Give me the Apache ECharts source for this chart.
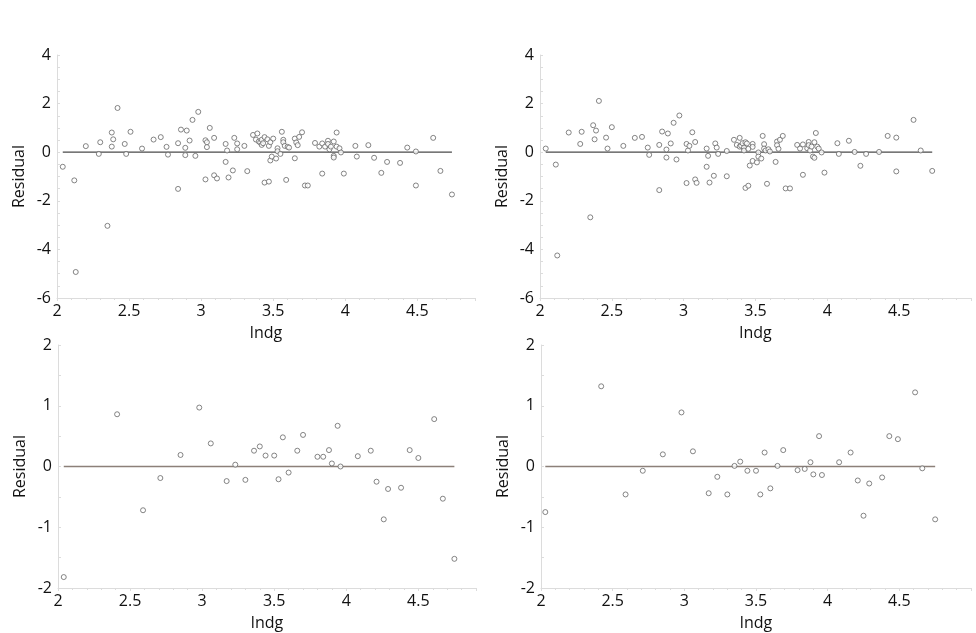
<!DOCTYPE html>
<html>
<head>
<meta charset="utf-8">
<script src="https://cdn.jsdelivr.net/npm/echarts@6/dist/echarts.min.js"></script>
<style>
  html, body { margin: 0; padding: 0; background: #fff; }
  #chart { width: 976px; height: 633px; }
</style>
</head>
<body>
<div id="chart"></div>
<script>
// residuals vs lndg, four panels: [lndg, residual]
var residTopLeft = [
  [2.04,-0.60],[2.12,-1.16],[2.13,-4.93],[2.20,0.25],[2.29,-0.07],[2.30,0.41],[2.35,-3.03],
  [2.38,0.81],[2.38,0.23],[2.39,0.53],[2.42,1.82],[2.47,0.34],[2.48,-0.07],[2.51,0.84],
  [2.59,0.15],[2.67,0.52],[2.72,0.62],[2.76,0.22],[2.77,-0.10],[2.84,0.37],[2.84,-1.51],
  [2.86,0.93],[2.89,0.18],[2.89,-0.12],[2.90,0.89],[2.92,0.48],[2.94,1.33],[2.96,-0.15],
  [2.98,1.66],[3.03,0.49],[3.03,-1.12],[3.04,0.41],[3.04,0.21],[3.06,1.00],[3.09,0.59],
  [3.09,-0.95],[3.11,-1.08],[3.17,0.34],[3.17,-0.40],[3.18,0.07],[3.19,-1.04],[3.22,-0.75],
  [3.23,0.59],[3.25,0.36],[3.25,0.12],[3.30,0.26],[3.32,-0.78],[3.36,0.71],[3.38,0.52],
  [3.39,0.77],[3.40,0.44],[3.41,0.40],[3.42,0.51],[3.42,0.30],[3.43,0.37],[3.44,-1.25],
  [3.44,0.62],[3.46,0.53],[3.47,-1.21],[3.47,0.26],[3.48,-0.34],[3.48,0.41],[3.49,-0.18],
  [3.50,0.56],[3.52,-0.26],[3.53,0.16],[3.53,0.04],[3.55,-0.07],[3.56,0.84],[3.57,0.51],
  [3.57,0.41],[3.58,0.26],[3.59,-1.14],[3.60,0.22],[3.61,0.19],[3.65,-0.25],[3.65,0.56],
  [3.66,0.40],[3.67,0.29],[3.68,0.63],[3.70,0.82],[3.72,-1.37],[3.74,-1.37],[3.79,0.38],
  [3.82,0.23],[3.84,-0.88],[3.84,0.36],[3.86,0.23],[3.88,0.47],[3.88,0.34],[3.89,0.12],
  [3.90,0.23],[3.92,-0.15],[3.92,-0.22],[3.92,0.44],[3.94,0.81],[3.94,0.23],[3.96,0.16],
  [3.97,-0.01],[3.99,-0.88],[4.07,0.26],[4.08,-0.18],[4.16,0.29],[4.20,-0.23],[4.25,-0.85],
  [4.29,-0.40],[4.38,-0.44],[4.43,0.19],[4.49,0.03],[4.49,-1.37],[4.61,0.59],[4.66,-0.77],
  [4.74,-1.74]
];
var residTopRight = [
  [2.04,0.15],[2.11,-0.51],[2.12,-4.25],[2.20,0.81],[2.28,0.34],[2.29,0.84],[2.35,-2.68],
  [2.37,1.11],[2.38,0.53],[2.39,0.89],[2.41,2.11],[2.46,0.60],[2.47,0.15],[2.50,1.03],
  [2.58,0.26],[2.66,0.59],[2.71,0.63],[2.75,0.19],[2.76,-0.11],[2.83,0.30],[2.83,-1.56],
  [2.85,0.85],[2.88,0.11],[2.88,-0.22],[2.89,0.77],[2.91,0.36],[2.93,1.21],[2.95,-0.30],
  [2.97,1.51],[3.02,-1.27],[3.02,0.34],[3.03,0.07],[3.04,0.26],[3.06,0.82],[3.08,-1.12],
  [3.08,0.42],[3.09,-1.26],[3.16,0.15],[3.16,-0.60],[3.17,-0.15],[3.18,-1.25],[3.21,-0.97],
  [3.22,0.36],[3.23,0.19],[3.24,-0.07],[3.30,0.05],[3.30,-0.99],[3.35,0.51],[3.37,0.30],
  [3.39,0.59],[3.39,0.23],[3.40,0.27],[3.41,0.37],[3.42,0.15],[3.42,0.19],[3.43,-1.47],
  [3.43,0.41],[3.44,0.36],[3.42,0.07],[3.45,-1.38],[3.45,0.14],[3.46,-0.55],[3.48,0.34],
  [3.48,0.22],[3.48,-0.36],[3.51,-0.42],[3.52,-0.01],[3.52,-0.18],[3.54,-0.26],[3.55,0.67],
  [3.56,0.33],[3.56,0.15],[3.57,0.07],[3.58,-1.30],[3.59,0.12],[3.60,0.03],[3.64,-0.40],
  [3.65,0.44],[3.65,0.29],[3.66,0.14],[3.67,0.51],[3.69,0.67],[3.71,-1.49],[3.74,-1.49],
  [3.79,0.30],[3.81,0.15],[3.83,-0.93],[3.83,0.32],[3.86,0.16],[3.87,0.42],[3.87,0.29],
  [3.88,0.07],[3.89,0.23],[3.90,-0.18],[3.91,-0.23],[3.91,0.41],[3.92,0.79],[3.93,0.23],
  [3.94,0.15],[3.96,-0.01],[3.98,-0.84],[4.07,0.37],[4.08,-0.07],[4.15,0.47],[4.19,0.01],
  [4.23,-0.56],[4.27,-0.07],[4.36,0.01],[4.42,0.67],[4.48,0.60],[4.48,-0.79],[4.60,1.33],
  [4.65,0.07],[4.73,-0.77]
];
var residBottomLeft = [
  [2.04,-1.82],[2.41,0.86],[2.59,-0.72],[2.71,-0.19],[2.85,0.19],[2.98,0.97],[3.06,0.38],
  [3.17,-0.24],[3.23,0.03],[3.30,-0.22],[3.36,0.26],[3.40,0.33],[3.44,0.18],[3.50,0.18],
  [3.53,-0.21],[3.56,0.48],[3.60,-0.10],[3.66,0.26],[3.70,0.52],[3.80,0.16],[3.84,0.16],
  [3.88,0.27],[3.90,0.05],[3.94,0.67],[3.96,0.00],[4.08,0.17],[4.17,0.26],[4.21,-0.25],
  [4.26,-0.87],[4.29,-0.37],[4.38,-0.35],[4.44,0.27],[4.50,0.14],[4.61,0.78],[4.67,-0.53],
  [4.75,-1.52]
];
var residBottomRight = [
  [2.03,-0.75],[2.42,1.32],[2.59,-0.46],[2.71,-0.07],[2.85,0.20],[2.98,0.89],[3.06,0.25],
  [3.17,-0.44],[3.23,-0.17],[3.30,-0.46],[3.35,0.01],[3.39,0.08],[3.44,-0.07],[3.50,-0.07],
  [3.53,-0.46],[3.56,0.23],[3.60,-0.36],[3.65,0.01],[3.69,0.27],[3.79,-0.06],[3.84,-0.04],
  [3.88,0.07],[3.90,-0.13],[3.94,0.50],[3.96,-0.14],[4.08,0.07],[4.16,0.23],[4.21,-0.23],
  [4.25,-0.81],[4.29,-0.28],[4.38,-0.18],[4.43,0.50],[4.49,0.45],[4.61,1.22],[4.66,-0.03],
  [4.75,-0.87]
];
var panels = [residTopLeft, residTopRight, residBottomLeft, residBottomRight];
var xMaxes = [4.9, 5, 4.9, 5];
var yMins = [-6, -6, -2, -2];
var yMaxes = [4, 4, 2, 2];
var yIntervals = [2, 2, 1, 1];

var chart = echarts.init(document.getElementById('chart'));
var font = 'Open Sans';
var grids = [
  {left: 57, top: 55, width: 418, height: 243},
  {left: 540, top: 55, width: 431, height: 243},
  {left: 58, top: 345, width: 418, height: 243},
  {left: 541, top: 345, width: 430, height: 243}
];
var zeroColors = ['#4a4a4a', '#4a4a4a', '#8c8079', '#8c8079'];

var xAxes = [], yAxes = [], series = [];
panels.forEach(function (pts, i) {
  xAxes.push({
    type: 'value', gridIndex: i, min: 2, max: xMaxes[i], interval: 0.5,
    name: 'lndg', nameLocation: 'middle', nameGap: 27,
    nameTextStyle: {fontFamily: font, fontSize: 16, color: '#111'},
    axisLine: {show: true, onZero: false, lineStyle: {color: '#dcdcdc', width: 1}},
    axisTick: {show: true, length: 3, lineStyle: {color: '#dcdcdc'}},
    minorTick: {show: true, splitNumber: 5, length: 2, lineStyle: {color: '#dcdcdc'}},
    splitLine: {show: false},
    axisLabel: {
      fontFamily: font, fontSize: 16, color: '#111', margin: 5,
      formatter: function (v) { return v > 4.6 ? '' : String(v); }
    }
  });
  yAxes.push({
    type: 'value', gridIndex: i, min: yMins[i], max: yMaxes[i], interval: yIntervals[i],
    name: 'Residual', nameLocation: 'middle', nameGap: 30,
    nameTextStyle: {fontFamily: font, fontSize: 16, color: '#111'},
    axisLine: {show: true, onZero: false, lineStyle: {color: '#dcdcdc', width: 1}},
    axisTick: {show: true, inside: true, length: 3, lineStyle: {color: '#dcdcdc'}},
    minorTick: {show: true, splitNumber: i < 2 ? 4 : 2, length: 3, lineStyle: {color: '#dcdcdc'}},
    splitLine: {show: false},
    axisLabel: {fontFamily: font, fontSize: 16, color: '#111', margin: 6}
  });
  var xs = pts.map(function (p) { return p[0]; });
  var lo = Math.min.apply(null, xs), hi = Math.max.apply(null, xs);
  series.push({
    type: 'line', xAxisIndex: i, yAxisIndex: i, data: [[lo, 0], [hi, 0]],
    symbol: 'none', silent: true, z: 1,
    lineStyle: {color: zeroColors[i], width: 1.3}
  });
  series.push({
    type: 'scatter', xAxisIndex: i, yAxisIndex: i, data: pts,
    symbol: 'circle', symbolSize: 5, z: 2,
    itemStyle: {color: '#fff', borderColor: '#666', borderWidth: 1}
  });
});

chart.setOption({
  animation: false,
  backgroundColor: '#fff',
  grid: grids,
  xAxis: xAxes,
  yAxis: yAxes,
  series: series
});
</script>
</body>
</html>
